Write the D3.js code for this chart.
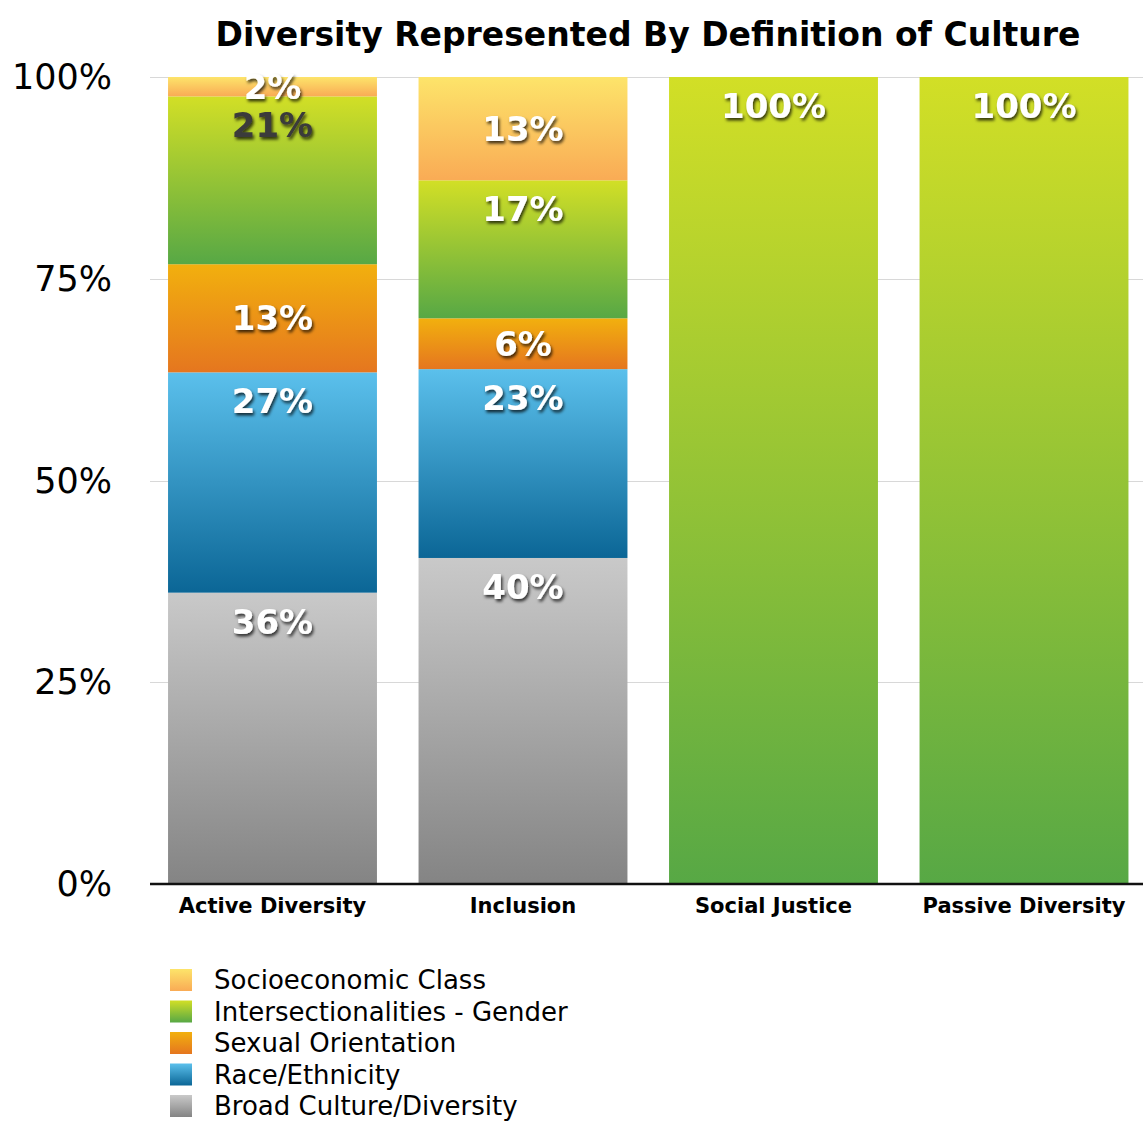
<!DOCTYPE html>
<meta charset="utf-8">
<style>
body { margin: 0; background: #fff; }
text { font-family: "DejaVu Sans", sans-serif; }
.grid line { stroke: #d8d8d8; shape-rendering: crispEdges; }
</style>
<body>
<svg width="1143" height="1122"></svg>
<script src="https://d3js.org/d3.v7.min.js"></script>
<script>

var categories = ["Active Diversity", "Inclusion", "Social Justice", "Passive Diversity"];
var seriesNames = ["Broad Culture/Diversity", "Race/Ethnicity", "Sexual Orientation", "Intersectionalities - Gender", "Socioeconomic Class"];
var broad = [36.1, 40.4, 0, 0];
var race = [27.3, 23.4, 0, 0];
var sexual = [13.4, 6.3, 0, 0];
var inter = [20.8, 17.1, 100, 100];
var socio = [2.4, 12.8, 0, 0];
var yTicks = [0, 25, 50, 75, 100];

// gradient stops, top then bottom
var colors = [
	["#c9c9c9", "#848484"],
	["#5bc0ec", "#0b6696"],
	["#f2b00e", "#e5761f"],
	["#d2df26", "#57a845"],
	["#fde46a", "#f9ab55"]
];

var seriesValues = [broad, race, sexual, inter, socio];

var rows = categories.map(function(c, i){
	var r = {cat: c};
	seriesNames.forEach(function(s, j){ r[s] = seriesValues[j][i]; });
	return r;
});

var stacked = d3.stack().keys(seriesNames)(rows);

var svg = d3.select("svg");

var x = d3.scaleBand()
	.domain(categories)
	.range([147.25, 1149.25])
	.paddingInner(0.166)
	.paddingOuter(0.083);

var y = d3.scaleLinear()
	.domain([0, 100])
	.range([884, 77]);

var defs = svg.append("defs");

colors.forEach(function(c, j){
	var g = defs.append("linearGradient")
		.attr("id", "grad" + j)
		.attr("x1", 0).attr("y1", 0).attr("x2", 0).attr("y2", 1);
	g.append("stop").attr("offset", "0%").attr("stop-color", c[0]);
	g.append("stop").attr("offset", "100%").attr("stop-color", c[1]);
});

var shadow = defs.append("filter").attr("id", "shadow")
	.attr("x", "-20%").attr("y", "-30%").attr("width", "140%").attr("height", "160%");
shadow.append("feDropShadow")
	.attr("dx", 1.5).attr("dy", 2.5).attr("stdDeviation", 1.5)
	.attr("flood-color", "#000").attr("flood-opacity", 0.75);

// title
svg.append("text")
	.attr("x", 648)
	.attr("y", 46)
	.attr("text-anchor", "middle")
	.style("font-size", "33px")
	.style("font-weight", "bold")
	.text("Diversity Represented By Definition of Culture");

// grid
svg.append("g")
	.attr("class", "grid")
	.selectAll("line")
	.data(yTicks.slice(1))
	.enter().append("line")
	.attr("x1", 150)
	.attr("x2", 1143)
	.attr("y1", function(d){ return Math.round(y(d)) + 0.5; })
	.attr("y2", function(d){ return Math.round(y(d)) + 0.5; });

// y labels
svg.append("g")
	.selectAll("text")
	.data(yTicks)
	.enter().append("text")
	.attr("x", 112)
	.attr("y", function(d){ return y(d) + 12; })
	.attr("text-anchor", "end")
	.style("font-size", "35px")
	.text(function(d){ return d + "%"; });

// bars
var layer = svg.selectAll(".layer")
	.data(stacked)
	.enter().append("g")
	.attr("class", "layer")
	.attr("fill", function(d, j){ return "url(#grad" + j + ")"; });

layer.selectAll("rect")
	.data(function(d){ return d.filter(function(p){ return p[1] - p[0] > 0; }); })
	.enter().append("rect")
	.attr("x", function(d){ return x(d.data.cat); })
	.attr("width", x.bandwidth())
	.attr("y", function(d){ return y(d[1]); })
	.attr("height", function(d){ return y(d[0]) - y(d[1]); });

// axis line
svg.append("line")
	.attr("x1", 150).attr("x2", 1143)
	.attr("y1", 884).attr("y2", 884)
	.attr("stroke", "#111")
	.attr("stroke-width", 2.5);

// value labels
layer.each(function(s, j){
	d3.select(this).selectAll("text")
		.data(s.filter(function(p){ return p[1] - p[0] > 0; }))
		.enter().append("text")
		.attr("x", function(d){ return x(d.data.cat) + x.bandwidth() / 2; })
		.attr("y", function(d){
			var top = y(d[1]), h = y(d[0]) - y(d[1]);
			var cy = h < 120 ? top + h / 2 : top + 29;
			return cy + 12;
		})
		.attr("text-anchor", "middle")
		.attr("fill", function(d){ return (j == 3 && d.data.cat == "Active Diversity") ? "#3a3a3a" : "#fff"; })
		.attr("filter", "url(#shadow)")
		.style("font-size", "34px")
		.style("font-weight", "bold")
		.text(function(d){ return Math.round(d[1] - d[0]) + "%"; });
});

// category labels
svg.append("g")
	.selectAll("text")
	.data(categories)
	.enter().append("text")
	.attr("x", function(d){ return x(d) + x.bandwidth() / 2; })
	.attr("y", 913)
	.attr("text-anchor", "middle")
	.style("font-size", "21px")
	.style("font-weight", "bold")
	.text(function(d){ return d; });

// legend
var legend = svg.append("g")
	.selectAll("g")
	.data(seriesNames.slice().reverse())
	.enter().append("g")
	.attr("transform", function(d, i){ return "translate(170," + (969 + i * 31.5) + ")"; });

legend.append("rect")
	.attr("width", 22)
	.attr("height", 22)
	.attr("fill", function(d){ return "url(#grad" + seriesNames.indexOf(d) + ")"; });

legend.append("text")
	.attr("x", 44)
	.attr("y", 20)
	.style("font-size", "26px")
	.text(function(d){ return d; });

</script>
</body>
</html>
